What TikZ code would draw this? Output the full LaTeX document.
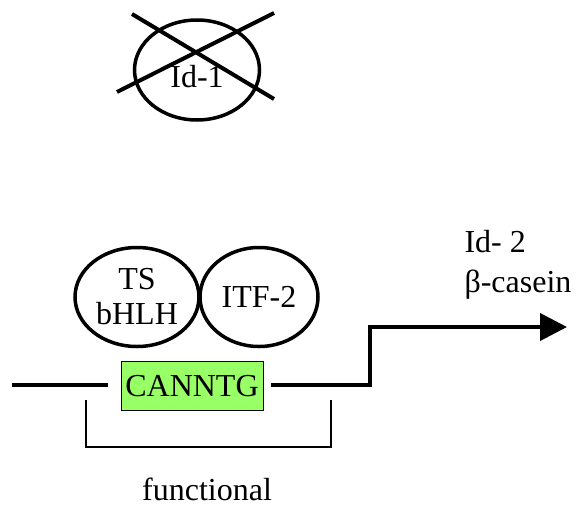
\documentclass[tikz,border=0pt]{standalone}
\usepackage{fontspec}
\setmainfont{Liberation Serif}
\usetikzlibrary{positioning,shapes.geometric,arrows.meta}
\definecolor{boxgreen}{RGB}{153,255,102}

\begin{document}
\begin{tikzpicture}[x=1pt,y=-1pt,
   every node/.style={font=\fontsize{32}{35}\selectfont},
   prot/.style={draw,ellipse,line width=3.5pt,inner sep=0pt,align=center},
   dna/.style={line width=4pt},
   brace/.style={line width=2pt}]
   \useasboundingbox (0,0) rectangle (580,506);
   % Id-1, crossed out
   \node[prot,minimum width=125,minimum height=100] (id1) at (197,70) {};
   \node (id1t) at (197,77) {Id-1};
   \coordinate (x1) at (132,14);
   \coordinate (x2) at (274,99);
   \coordinate (x3) at (274,13);
   \coordinate (x4) at (117,92);
   \draw[dna] (x1) -- (x2);
   \draw[dna] (x3) -- (x4);
   % dimer on the E-box
   \node[prot,minimum width=124,minimum height=99] (ts) at (137,297) {TS\\bHLH};
   \node[prot,minimum width=118,minimum height=99] (itf) at (259,297) {ITF-2};
   \node[draw,fill=boxgreen,line width=1pt,minimum width=142,minimum height=49,inner sep=0pt]
      (ebox) at (192,386) {CANNTG};
   % promoter and transcription
   \coordinate (start) at (12,385);
   \coordinate (tss) at (370,385);
   \coordinate (tip) at (567,327);
   \draw[dna] (start) -- ([xshift=-13pt]ebox.west |- start);
   \draw[dna,-{Triangle[length=27pt,width=27pt]}]
      ([xshift=7pt]ebox.east |- tss) -- (tss) -- (tss |- tip) -- (tip);
   \node[anchor=base west] (id2) at (461,252) {Id- 2};
   \node[anchor=base west] (bcas) at (461,292) {β-casein};
   % functional region
   \coordinate (b1) at (86,400);
   \coordinate (b2) at (331,447);
   \draw[brace] (b1) -- (b1 |- b2) -- (b2) -- (b2 |- b1);
   \node (func) at (207,489) {functional};
\end{tikzpicture}
\end{document}
